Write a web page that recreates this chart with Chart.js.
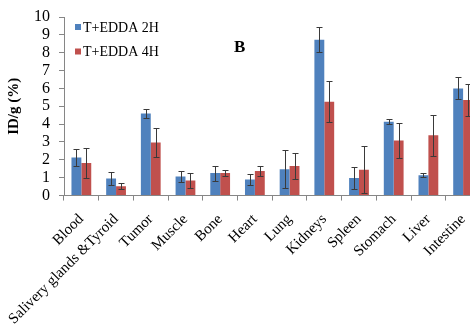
<!DOCTYPE html>
<html>
<head>
<meta charset="utf-8">
<script src="https://cdn.jsdelivr.net/npm/chart.js@4/dist/chart.umd.min.js"></script>
<style>
  html, body { margin: 0; padding: 0; background: #fff; overflow: hidden; }
  #wrap { width: 486px; height: 332px; }
</style>
</head>
<body>
<div id="wrap"><canvas id="organChart" width="486" height="332"></canvas></div>
<script>
// organs and uptake values
const organs = ['Blood', 'Salivery glands &Tyroid', 'Tumor', 'Muscle', 'Bone', 'Heart',
                'Lung', 'Kidneys', 'Spleen', 'Stomach', 'Liver', 'Intestine'];
const edda2h    = [2.13, 0.95, 4.6, 1.07, 1.26, 0.9, 1.48, 8.72, 0.98, 4.13, 1.14, 6.0];
const edda2hErr = [0.47, 0.36, 0.25, 0.33, 0.42, 0.3, 1.05, 0.7, 0.6, 0.13, 0.12, 0.62];
const edda4h    = [1.82, 0.52, 2.97, 0.85, 1.26, 1.38, 1.65, 5.25, 1.45, 3.08, 3.38, 5.35];
const edda4hErr = [0.82, 0.17, 0.82, 0.43, 0.17, 0.3, 0.72, 1.15, 1.32, 1.0, 1.15, 0.88];
const yTicks = [0, 1, 2, 3, 4, 5, 6, 7, 8, 9, 10];

const serif = '"Liberation Serif", "Times New Roman", serif';

// error bars: drawn from each bar element through the y scale
const errorBars = {
  id: 'errorBars',
  afterDatasetsDraw(chart) {
    const ctx = chart.ctx;
    const y = chart.scales.y;
    ctx.save();
    ctx.strokeStyle = '#3a3a3a';
    ctx.lineWidth = 1;
    chart.data.datasets.forEach((ds, i) => {
      const meta = chart.getDatasetMeta(i);
      meta.data.forEach((bar, j) => {
        const v = ds.data[j], e = ds.errors[j];
        const top = Math.round(y.getPixelForValue(v + e)) + 0.5;
        const bot = Math.round(y.getPixelForValue(Math.max(0, v - e))) + 0.5;
        const x = Math.round(bar.x) + 0.5;
        ctx.beginPath();
        ctx.moveTo(x, top); ctx.lineTo(x, bot);
        ctx.moveTo(x - 3, top); ctx.lineTo(x + 3, top);
        ctx.moveTo(x - 3, bot); ctx.lineTo(x + 3, bot);
        ctx.stroke();
      });
    });
    ctx.restore();
  }
};

// legend inside the plot + panel letter
const insideLegend = {
  id: 'insideLegend',
  afterDraw(chart) {
    const ctx = chart.ctx;
    const a = chart.chartArea;
    ctx.save();
    ctx.font = '14px ' + serif;
    ctx.textBaseline = 'middle';
    chart.data.datasets.forEach((ds, i) => {
      const cy = a.top + 10 + i * 24.5;
      ctx.fillStyle = ds.backgroundColor;
      ctx.fillRect(a.left + 11, cy - 3, 6, 6);
      ctx.fillStyle = '#000';
      ctx.fillText(ds.label, a.left + 19, cy + 1);
    });
    ctx.font = 'bold 17px ' + serif;
    ctx.fillText('B', a.left + 170, a.top + 31);
    ctx.restore();
  }
};

new Chart(document.getElementById('organChart'), {
  type: 'bar',
  data: {
    labels: organs,
    datasets: [
      { label: 'T+EDDA 2H', data: edda2h, errors: edda2hErr, backgroundColor: '#4F81BD' },
      { label: 'T+EDDA 4H', data: edda4h, errors: edda4hErr, backgroundColor: '#C0504D' }
    ]
  },
  options: {
    responsive: false,
    animation: false,
    layout: { padding: { top: 7, right: 4, left: 3, bottom: -6 } },
    datasets: { bar: { barPercentage: 1, categoryPercentage: 0.57 } },
    plugins: { legend: { display: false }, tooltip: { enabled: false } },
    scales: {
      x: {
        grid: { display: true, drawOnChartArea: false, offset: true, tickLength: 5, color: '#868686' },
        border: { color: '#868686' },
        ticks: {
          color: '#000', font: { family: serif, size: 15 },
          minRotation: 45, maxRotation: 45, autoSkip: false, padding: 10
        }
      },
      y: {
        min: 0, max: 10,
        afterBuildTicks: s => { s.ticks = yTicks.map(v => ({ value: v })); },
        grid: { display: true, drawOnChartArea: false, tickLength: 5, color: '#868686' },
        border: { color: '#868686' },
        ticks: { color: '#000', font: { family: serif, size: 16, lineHeight: 1 }, padding: 9, autoSkip: false },
        title: { display: true, text: 'ID/g (%)', color: '#000', font: { family: serif, size: 15, weight: 'bold' }, padding: 2 }
      }
    }
  },
  plugins: [errorBars, insideLegend]
});
</script>
</body>
</html>
